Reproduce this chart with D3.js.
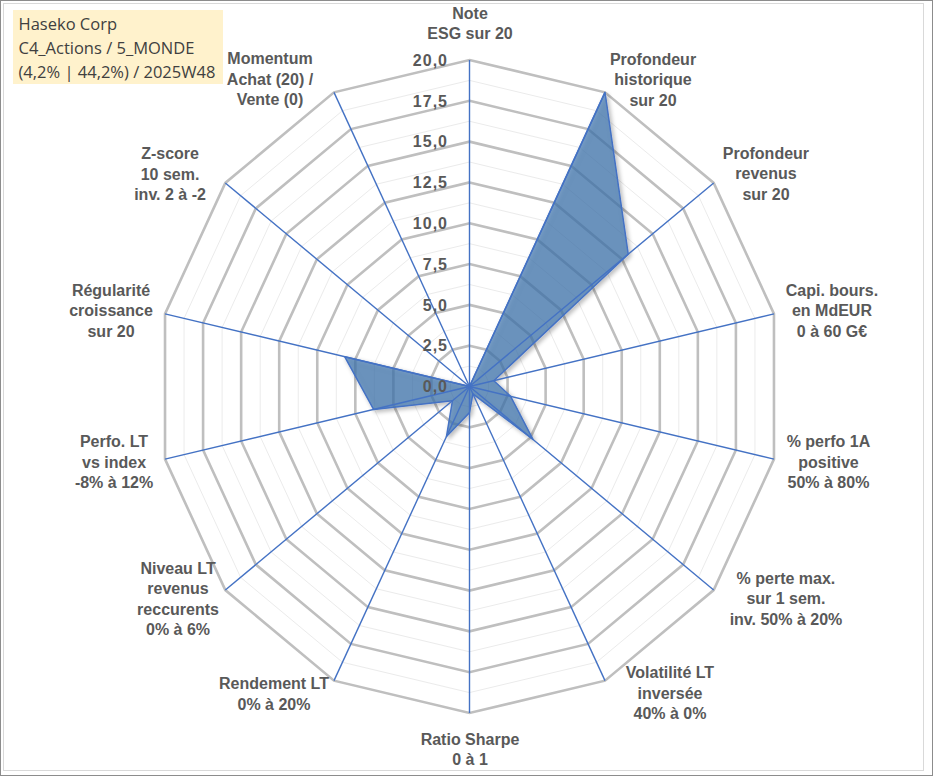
<!DOCTYPE html>
<html><head><meta charset="utf-8">
<script src="https://cdn.jsdelivr.net/npm/d3@7"></script>
<style>body{margin:0;background:#fff}svg{display:block}</style>
</head><body>
<svg id="c" width="933" height="776"></svg>
<script>
// ---- data ----
const axisLabels = [
  ["Note","ESG sur 20"],
  ["Profondeur","historique","sur 20"],
  ["Profondeur","revenus","sur 20"],
  ["Capi. bours.","en MdEUR","0 à 60 G€"],
  ["% perfo 1A","positive","50% à 80%"],
  ["% perte max.","sur 1 sem.","inv. 50% à 20%"],
  ["Volatilité LT","inversée","40% à 0%"],
  ["Ratio Sharpe","0 à 1"],
  ["Rendement LT","0% à 20%"],
  ["Niveau LT","revenus","reccurents","0% à 6%"],
  ["Perfo. LT","vs index","-8% à 12%"],
  ["Régularité","croissance","sur 20"],
  ["Z-score","10 sem.","inv. 2 à -2"],
  ["Momentum","Achat (20) /","Vente (0)"]
];
const seriesValues = [0, 20, 13, 1.6, 2.7, 5.2, 0.5, 1.6, 3.4, 1.4, 6.3, 8.2, 0, 0];
const tickValues = [0, 2.5, 5, 7.5, 10, 12.5, 15, 17.5, 20];
const minorValues = [1.25, 3.75, 6.25, 8.75, 11.25, 13.75, 16.25, 18.75];
const titleLines = ["Haseko Corp", "C4_Actions / 5_MONDE", "(4,2% | 44,2%) / 2025W48"];

// ---- layout ----
const W = 933, H = 776;
const cx = 469.5, cy = 386.5, Rx = 312.3, Ry = 326.5;
const labelOffsets = [[0.5,-37],[48,-12.8],[52.3,-9.4],[58,-3.4],[54.5,2.9],[72.3,8.4],[65,12.3],
  [0.5,36],[-60,13.3],[-47.3,8.9],[-51,2.9],[-54,-3.4],[-55.3,-8.9],[-64,-13.3]];

const svg = d3.select("#c");
const n = axisLabels.length;
const angle = d3.scaleLinear().domain([0, n]).range([0, 2 * Math.PI]);
const r = d3.scaleLinear().domain([0, 20]).range([0, 1]);
const px = (i, v) => cx + r(v) * Rx * Math.sin(angle(i));
const py = (i, v) => cy - r(v) * Ry * Math.cos(angle(i));
const idx = d3.range(n);

// borders
svg.append("rect").attr("x",0.5).attr("y",0.5).attr("width",W-1).attr("height",H-1)
  .attr("fill","#fff").attr("stroke","#8c8c8c");
svg.append("rect").attr("x",3.5).attr("y",3.5).attr("width",920).attr("height",767)
  .attr("fill","none").attr("stroke","#d9d9d9");

const defs = svg.append("defs");
const f = defs.append("filter").attr("id","sh").attr("x","-20%").attr("y","-20%").attr("width","140%").attr("height","140%");
f.append("feDropShadow").attr("dx",2).attr("dy",2).attr("stdDeviation",2)
  .attr("flood-color","#000").attr("flood-opacity",0.35);

const ring = v => d3.line().curve(d3.curveLinearClosed)
  .x(i => px(i, v)).y(i => py(i, v))(idx);

// minor grid
svg.append("g").selectAll("path").data(minorValues).join("path")
  .attr("d", ring).attr("fill","none").attr("stroke","#ebebeb").attr("stroke-width",1);
// major grid
svg.append("g").selectAll("path").data(tickValues.filter(v => v > 0)).join("path")
  .attr("d", ring).attr("fill","none").attr("stroke","#bfbfbf").attr("stroke-width",2.6);

// series area
const area = d3.line().curve(d3.curveLinearClosed)
  .x((d, i) => px(i, d)).y((d, i) => py(i, d));
svg.append("path").attr("d", area(seriesValues))
  .attr("fill","rgb(61,115,174)").attr("fill-opacity",0.68)
  .attr("stroke","#4472c4").attr("stroke-width",1.5).attr("stroke-linejoin","round")
  .attr("filter","url(#sh)");

// radial axis lines
svg.append("g").selectAll("line").data(idx).join("line")
  .attr("x1", cx).attr("y1", cy)
  .attr("x2", i => px(i, 20)).attr("y2", i => py(i, 20))
  .attr("stroke","#4472c4").attr("stroke-width",1.4);

// tick labels
const fmt = d3.formatLocale({decimal:",", thousands:" ", grouping:[3], currency:["","€"]}).format(".1f");
svg.append("g").selectAll("text").data(tickValues).join("text")
  .attr("x", cx - 21.5).attr("y", v => py(0, v))
  .attr("dy","0.36em").attr("text-anchor","end")
  .attr("font-family","Liberation Sans, Arial, sans-serif").attr("font-weight","bold")
  .attr("font-size",16).attr("letter-spacing","1px").attr("fill","#595959")
  .text(fmt);

// axis labels
const lh = 20.5;
const lg = svg.append("g").attr("font-family","Liberation Sans, Arial, sans-serif")
  .attr("font-weight","bold").attr("font-size",16).attr("fill","#595959").attr("text-anchor","middle");
idx.forEach(i => {
  const lines = axisLabels[i];
  const x0 = px(i, 20) + labelOffsets[i][0];
  const y0 = py(i, 20) + labelOffsets[i][1];
  const t = lg.append("text");
  lines.forEach((s, j) => {
    t.append("tspan").attr("x", x0).attr("y", y0 + (j - (lines.length - 1) / 2) * lh)
      .attr("dy","0.36em").text(s);
  });
});

// title box
svg.append("rect").attr("x",13).attr("y",10).attr("width",210).attr("height",74).attr("fill","#fff2cc");
svg.append("g").selectAll("text").data(titleLines).join("text")
  .attr("x",18.5).attr("y",(d,i) => 29.5 + i * 24)
  .attr("font-family","Open Sans, sans-serif").attr("font-size",16.5).attr("fill","#404040")
  .text(d => d);
</script>
</body></html>
